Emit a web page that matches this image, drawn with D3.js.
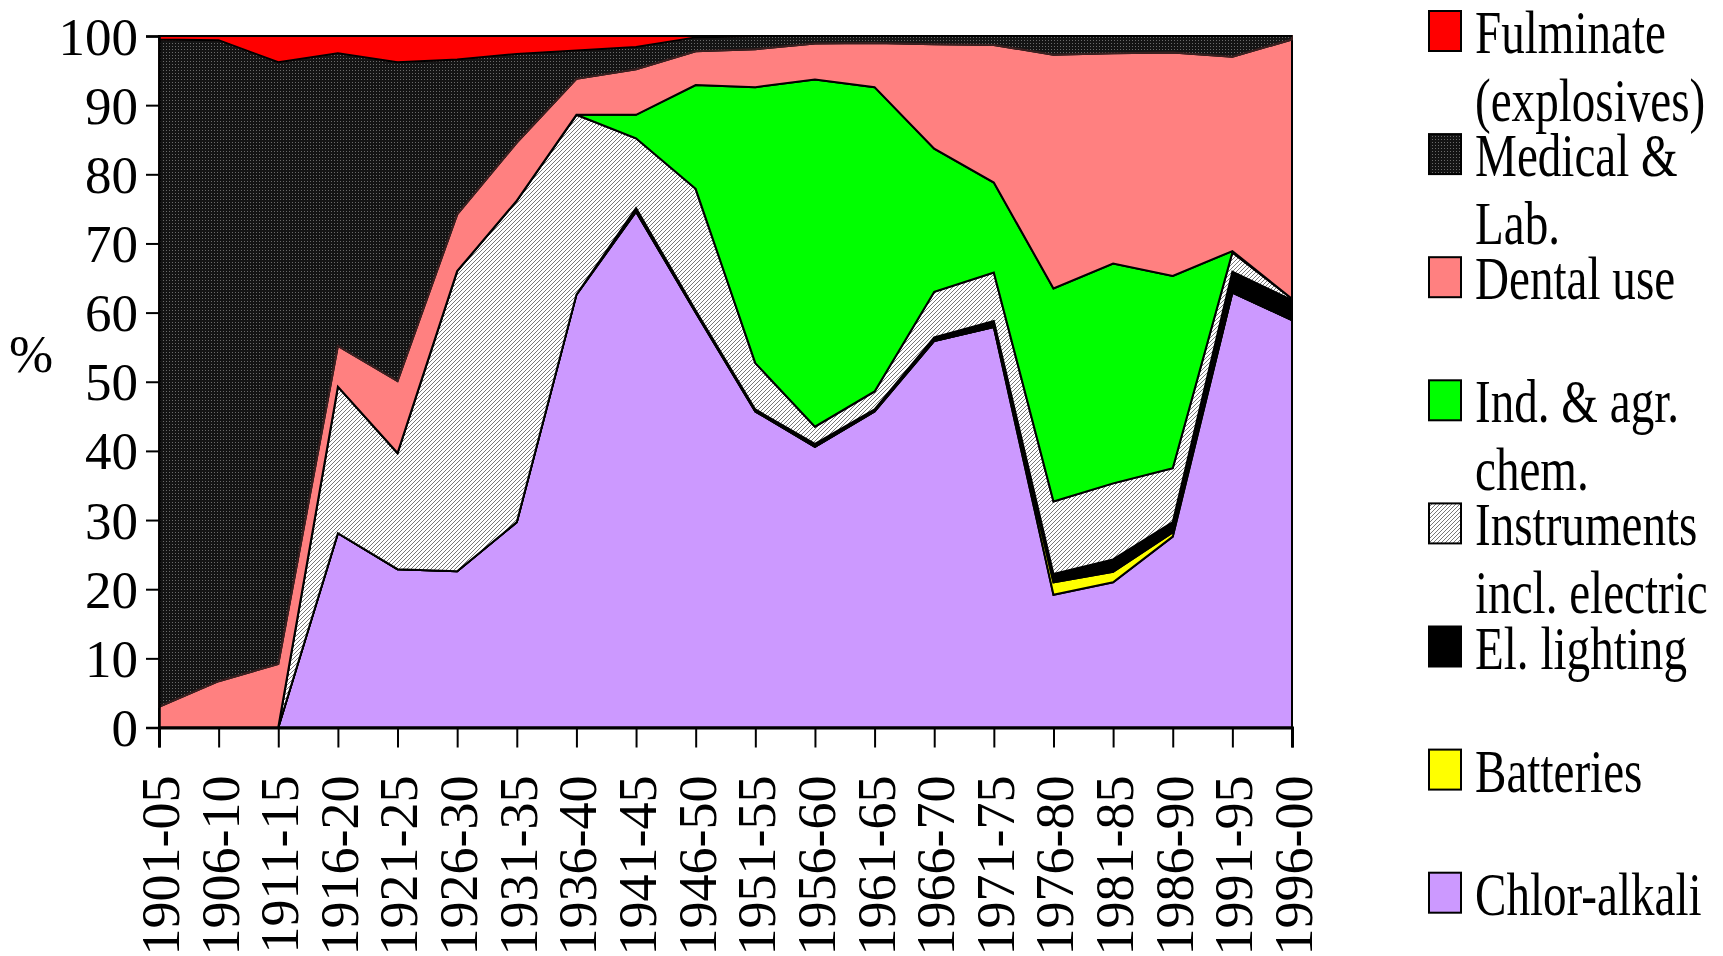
<!DOCTYPE html>
<html><head><meta charset="utf-8">
<script src="https://cdn.jsdelivr.net/npm/d3@7"></script>
<style>
html,body{margin:0;padding:0;background:#fff;}
svg text{font-family:"Liberation Serif","Times New Roman",serif;fill:#000;}
</style></head>
<body>
<svg id="chart" width="1723" height="956"></svg>
<script>
const periods = ["1901-05","1906-10","1911-15","1916-20","1921-25","1926-30","1931-35","1936-40","1941-45","1946-50","1951-55","1956-60","1961-65","1966-70","1971-75","1976-80","1981-85","1986-90","1991-95","1996-00"];
const chlorAlkali = [0,0,0,28.1,22.9,22.6,29.7,62.6,74.6,60.0,45.7,40.6,45.7,55.9,57.9,19.2,21.0,27.6,62.9,58.9];
const batteries   = [0,0,0,0,0,0,0,0,0,0,0,0,0,0,0,1.8,1.5,0.6,0,0];
const elLighting  = [0,0,0,0,0,0,0,0,0.5,0.3,0.3,0.4,0.3,0.5,0.9,1.2,1.8,1.5,3.0,2.9];
const instruments = [0,0,0,21.2,16.8,43.4,46.5,26.0,10.1,17.6,6.7,2.5,2.6,6.6,7.0,10.5,11.0,7.8,2.8,0.2];
const indAgrChem  = [0,0,0,0,0,0,0,0,3.4,15.0,39.9,50.2,44.0,20.7,13.0,30.8,31.8,27.8,0.2,0];
const dental      = [3.0,6.7,9.2,5.9,10.4,8.2,8.4,5.2,6.6,4.9,5.5,5.2,6.4,15.1,19.9,33.8,30.4,32.3,28.1,37.5];
const medical     = [96.5,92.7,87.0,42.3,46.1,22.4,12.8,4.1,3.2,2.0,1.9,1.1,1.0,1.2,1.3,2.7,2.5,2.4,3.0,0.5];
const fulminate   = [0.5,0.6,3.8,2.5,3.8,3.4,2.6,2.1,1.6,0.2,0,0,0,0,0,0,0,0,0,0];
const yTicks = [0,10,20,30,40,50,60,70,80,90,100];

const seriesDefs = [
  {key:"chlor", name:["Chlor-alkali"], values:chlorAlkali, fill:"#CC99FF"},
  {key:"batt", name:["Batteries"], values:batteries, fill:"#FFFF00"},
  {key:"ellight", name:["El. lighting"], values:elLighting, fill:"#000000"},
  {key:"instr", name:["Instruments","incl. electric"], values:instruments, fill:"url(#hatch)"},
  {key:"indagr", name:["Ind. & agr.","chem."], values:indAgrChem, fill:"#00FF00"},
  {key:"dental", name:["Dental use"], values:dental, fill:"#FF8080"},
  {key:"medical", name:["Medical &","Lab."], values:medical, fill:"url(#dots)"},
  {key:"fulm", name:["Fulminate","(explosives)"], values:fulminate, fill:"#FF0000"}
];

const table = periods.map((p,i)=>{
  const row = {period:p};
  seriesDefs.forEach(s=>row[s.key]=s.values[i]);
  return row;
});

const svg = d3.select("#chart");
const defs = svg.append("defs");
const dots = defs.append("pattern").attr("id","dots").attr("patternUnits","userSpaceOnUse").attr("width",3).attr("height",3);
dots.append("rect").attr("width",3).attr("height",3).attr("fill","#141414");
dots.append("rect").attr("x",1).attr("y",1).attr("width",1).attr("height",1).attr("fill","#6a6a6a");
const hatch = defs.append("pattern").attr("id","hatch").attr("patternUnits","userSpaceOnUse").attr("width",4).attr("height",4);
hatch.append("rect").attr("width",4).attr("height",4).attr("fill","#ffffff");
hatch.append("path").attr("d","M-1,1 L1,-1 M0,4 L4,0 M3,5 L5,3").attr("stroke","#555").attr("stroke-width",0.8);

const mLeft=159, mRight=1292, mTop=36, mBottom=727.5;
const x = d3.scalePoint().domain(periods).range([mLeft,mRight]);
const y = d3.scaleLinear().domain([0,100]).range([mBottom,mTop]);

const stack = d3.stack().keys(seriesDefs.map(s=>s.key));
const layers = stack(table);
const area = d3.area().x((d,i)=>x(periods[i])).y0(d=>y(d[0])).y1(d=>y(d[1]));

svg.append("g").selectAll("path").data(layers).join("path")
  .attr("d",area)
  .attr("fill",(d,i)=>seriesDefs[i].fill)
  .attr("stroke",(d,i)=>seriesDefs[i].key==="medical"?"#3a2020":"#000")
  .attr("stroke-width",2)
  .attr("stroke-linejoin","miter");

// axes
const yAxis = d3.axisLeft(y).tickValues(yTicks).tickSize(13).tickPadding(8);
const gy = svg.append("g").attr("transform",`translate(${mLeft},0)`).call(yAxis);
gy.selectAll("text").style("font-size","53px").attr("dy","0.34em");
gy.select(".domain").attr("stroke-width",2.5);
gy.selectAll(".tick line").attr("stroke-width",2);

const xAxis = d3.axisBottom(x).tickSize(20).tickPadding(0);
const gx = svg.append("g").attr("transform",`translate(0,${mBottom})`).call(xAxis);
gx.select(".domain").attr("stroke-width",3);
gx.selectAll(".tick line").attr("stroke-width",2);
gx.selectAll("text").style("font-size","54px")
  .attr("text-anchor","end")
  .attr("transform","translate(0,48) rotate(-90)")
  .attr("x",0).attr("y",0).attr("dy","0.36em");

svg.append("text").attr("x",31).attr("y",372).attr("text-anchor","middle").style("font-size","53px").text("%");

// legend
const legendOrder = seriesDefs.slice().reverse();
const lg = svg.append("g");
legendOrder.forEach((s,i)=>{
  const base = 53 + i*123.1;
  lg.append("rect").attr("x",1429).attr("y",base-42).attr("width",32).attr("height",40)
    .attr("fill",s.fill).attr("stroke","#000").attr("stroke-width",2);
  s.name.forEach((line,j)=>{
    lg.append("text").attr("transform",`translate(1475,${base + j*68}) scale(0.76,1)`)
      .style("font-size","62px").text(line);
  });
});
</script>
</body></html>
